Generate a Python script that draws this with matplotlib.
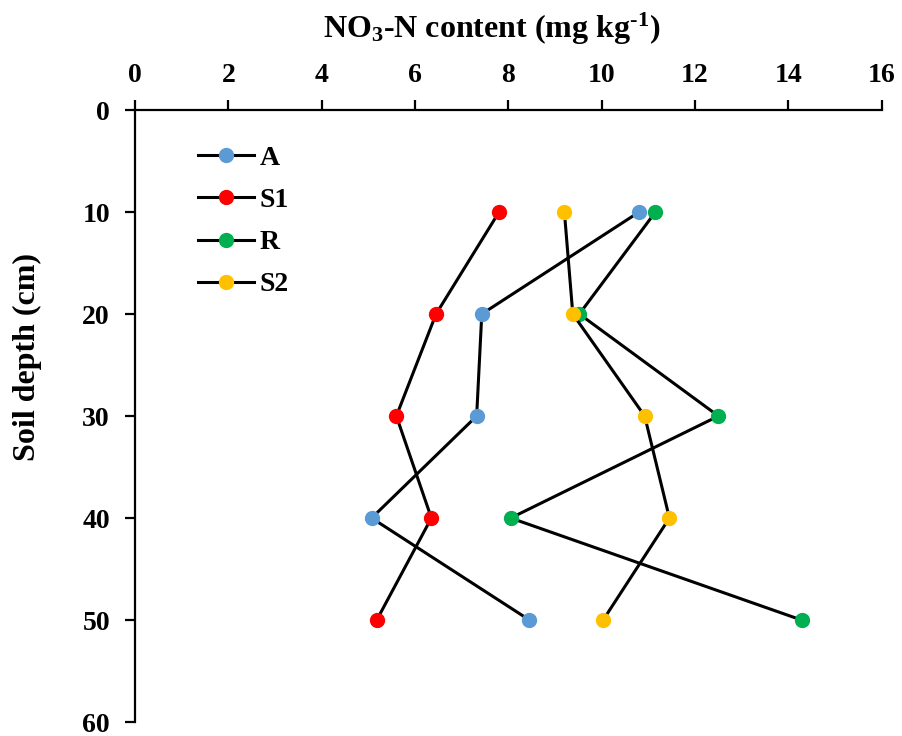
import matplotlib.pyplot as plt

depth = [10, 20, 30, 40, 50]
series_names = ["A", "S1", "R", "S2"]
a_vals = [10.8, 7.43, 7.32, 5.07, 8.45]
s1_vals = [7.8, 6.45, 5.6, 6.35, 5.18]
r_vals = [11.15, 9.52, 12.5, 8.05, 14.28]
s2_vals = [9.2, 9.38, 10.92, 11.45, 10.03]
colors = ["#5B9BD5", "#FF0000", "#00B050", "#FFC000"]
x_ticks = [0, 2, 4, 6, 8, 10, 12, 14, 16]
y_ticks = [0, 10, 20, 30, 40, 50, 60]

plt.rcParams["font.family"] = ["Liberation Serif", "DejaVu Serif"]
plt.rcParams["font.weight"] = "bold"
plt.rcParams["mathtext.fontset"] = "custom"
plt.rcParams["mathtext.rm"] = "Liberation Serif:bold"
plt.rcParams["mathtext.bf"] = "Liberation Serif:bold"
plt.rcParams["mathtext.it"] = "Liberation Serif:bold"

fig = plt.figure(figsize=(9.03, 7.36), dpi=100)
ax = fig.add_axes([0.1495, 0.019, 0.827, 0.8315])

for name, vals, c in zip(series_names, [a_vals, s1_vals, r_vals, s2_vals], colors):
    ax.plot(vals, depth, color="black", linewidth=2.2, marker="o", markersize=10,
            markerfacecolor=c, markeredgecolor=c, label=name)

ax.set_xlim(0, 16)
ax.set_ylim(60, 0)
ax.set_xticks(x_ticks)
ax.set_yticks(y_ticks)
ax.xaxis.tick_top()
ax.xaxis.set_label_position("top")
ax.spines["right"].set_visible(False)
ax.spines["bottom"].set_visible(False)
for s in ["top", "left"]:
    ax.spines[s].set_linewidth(1.6)
ax.tick_params(axis="both", direction="out", length=7, width=1.6, labelsize=20)
ax.tick_params(axis="y", pad=11)
ax.tick_params(axis="x", pad=9)
for lab in ax.get_xticklabels() + ax.get_yticklabels():
    lab.set_fontweight("bold")

ax.set_xlabel("NO$_\\mathrm{3}$-N content (mg kg$^{\\text{-1}}$)", fontsize=23,
              fontweight="bold", labelpad=18)
ax.xaxis.label.set_x(0.478)
ax.set_ylabel("Soil depth (cm)", fontsize=23, fontweight="bold")
ax.yaxis.set_label_coords(-0.124, 0.596)

ax.legend(loc="upper left", bbox_to_anchor=(0.07, 0.96), frameon=False,
          prop={"size": 20, "weight": "bold"}, handlelength=2.0,
          handletextpad=0.2, labelspacing=0.6, borderaxespad=0)

fig.savefig("out.png", dpi=100)
